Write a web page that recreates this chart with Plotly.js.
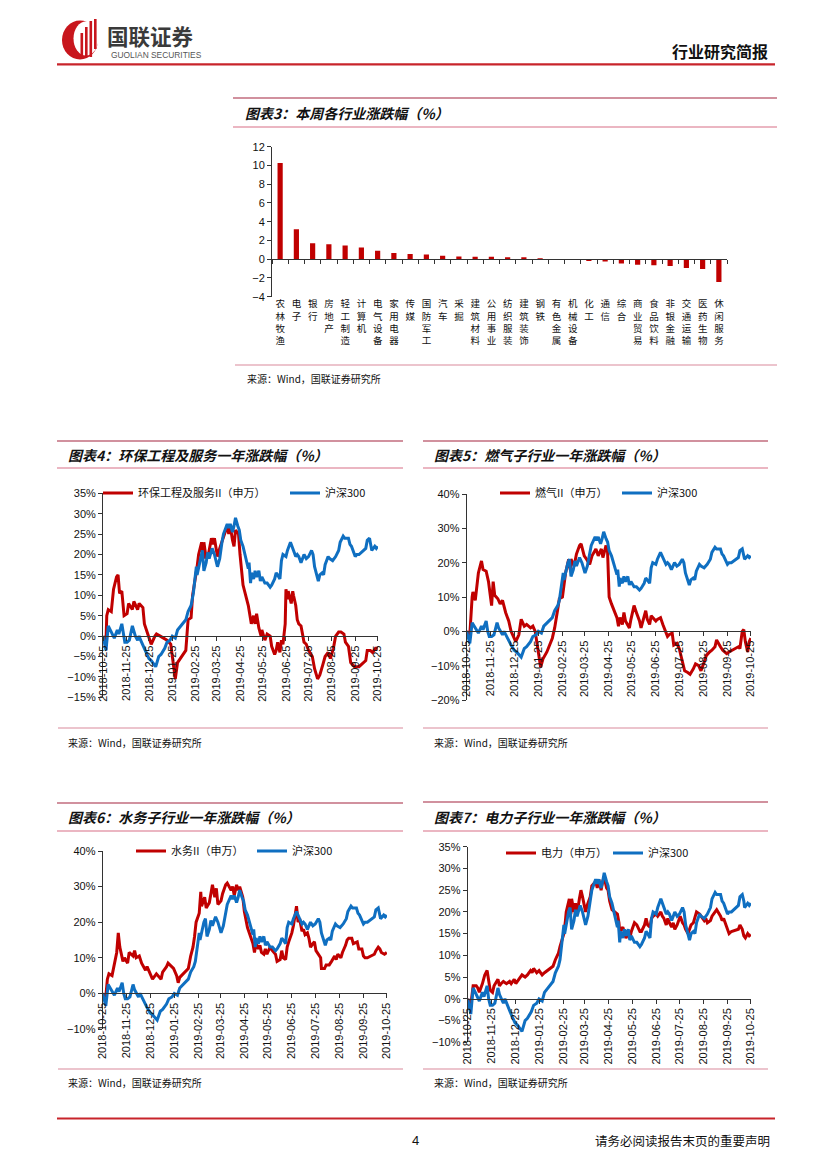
<!DOCTYPE html>
<html><head><meta charset="utf-8">
<script src="https://cdn.plot.ly/plotly-3.0.1.min.js"></script>
<style>
html,body{margin:0;padding:0;background:#fff;}
#page{position:relative;width:827px;height:1169px;overflow:hidden;background:#fff;}
#chart{position:absolute;left:0;top:0;width:827px;height:1169px;}
#logo{position:absolute;left:0;top:0;}
</style></head><body>
<div id="page"><div id="chart"></div>
<svg id="logo" width="120" height="70" viewBox="0 0 120 70">
  <ellipse cx="80" cy="40" rx="18" ry="19.5" fill="#C8161D"/>
  <ellipse cx="86" cy="38.5" rx="12.5" ry="17" fill="#fff"/>
  <rect x="80.5" y="33" width="2.6" height="24" fill="#C8161D"/>
  <rect x="85" y="27" width="2.6" height="30" fill="#C8161D"/>
  <rect x="89.5" y="21" width="2.6" height="36" fill="#C8161D"/>
  <rect x="94" y="19" width="2.6" height="30" fill="#C8161D"/>
</svg>
</div>
<script>
// ---------------- DATA ----------------
const industryNames = ['农林牧渔','电子','银行','房地产','轻工制造','计算机','电气设备','家用电器','传媒','国防军工','汽车','采掘','建筑材料','公用事业','纺织服装','建筑装饰','钢铁','有色金属','机械设备','化工','通信','综合','商业贸易','食品饮料','非银金融','交通运输','医药生物','休闲服务'];
const industryChange = [10.25,3.2,1.7,1.6,1.45,1.25,0.9,0.65,0.55,0.5,0.37,0.28,0.25,0.25,0.22,0.21,0.1,0.02,-0.06,-0.18,-0.25,-0.45,-0.6,-0.64,-0.72,-0.95,-1.05,-2.42];

const monthTicks = ['2018-10-25','2018-11-25','2018-12-25','2019-01-25','2019-02-25','2019-03-25','2019-04-25','2019-05-25','2019-06-25','2019-07-25','2019-08-25','2019-09-25','2019-10-25'];

const hsDates = ['2018-10-25','2018-10-29','2018-11-01','2018-11-05','2018-11-07','2018-11-09','2018-11-13','2018-11-15','2018-11-19','2018-11-21','2018-11-23','2018-11-26','2018-11-29','2018-12-03','2018-12-05','2018-12-07','2018-12-10','2018-12-12','2018-12-14','2018-12-18','2018-12-21','2018-12-25','2018-12-28','2019-01-03','2019-01-07','2019-01-10','2019-01-15','2019-01-18','2019-01-22','2019-01-25','2019-01-29','2019-02-01','2019-02-12','2019-02-15','2019-02-19','2019-02-21','2019-02-22','2019-02-25','2019-02-26','2019-02-27','2019-03-01','2019-03-04','2019-03-06','2019-03-08','2019-03-11','2019-03-13','2019-03-15','2019-03-19','2019-03-22','2019-03-26','2019-03-29','2019-04-01','2019-04-03','2019-04-08','2019-04-10','2019-04-12','2019-04-15','2019-04-17','2019-04-19','2019-04-22','2019-04-24','2019-04-26','2019-04-29','2019-05-06','2019-05-07','2019-05-09','2019-05-10','2019-05-13','2019-05-15','2019-05-17','2019-05-20','2019-05-22','2019-05-24','2019-05-28','2019-05-31','2019-06-04','2019-06-06','2019-06-10','2019-06-12','2019-06-14','2019-06-17','2019-06-19','2019-06-21','2019-06-25','2019-06-27','2019-07-01','2019-07-03','2019-07-05','2019-07-08','2019-07-10','2019-07-12','2019-07-15','2019-07-17','2019-07-19','2019-07-22','2019-07-25','2019-07-29','2019-07-31','2019-08-02','2019-08-05','2019-08-07','2019-08-09','2019-08-12','2019-08-14','2019-08-16','2019-08-20','2019-08-22','2019-08-26','2019-08-28','2019-08-30','2019-09-03','2019-09-05','2019-09-09','2019-09-11','2019-09-16','2019-09-18','2019-09-20','2019-09-23','2019-09-25','2019-09-27','2019-09-30','2019-10-09','2019-10-11','2019-10-14','2019-10-16','2019-10-17','2019-10-21','2019-10-23','2019-10-25'];
const hsValues = [0,-3.5,2.5,1,0,-0.5,1.5,0.5,3,0,-1.5,-1.5,-1,2.5,1,0,-1,0,-1,-2.5,-4,-5.5,-6,-7.5,-5,-4.5,-3,-1.5,-1,0,-0.5,1.5,4,6,7.5,9,10.5,15.5,17,15,17,20,21,16,18,20.5,19,21.5,20,17,19,23,25,27.5,26.5,27.5,25.5,27,29,27,26,23.5,22,16.5,18,13,15.5,14,16,14.5,16,13.5,14.5,13,13,12,12.5,14,15.5,15,14,18.5,20,19.5,21,23,22,20.5,19.5,20,19.5,18,19,20,19,19.5,21,20,17,14.5,13.5,15,15.5,15,17.5,19.5,19,18.5,19,19.5,21,23,24.5,24,24,22.5,22,20.5,19.5,20,20,21.5,23.5,24,22.5,21,22,21.5,22];

const hbDates = ['2018-10-25','2018-10-29','2018-10-30','2018-11-01','2018-11-05','2018-11-08','2018-11-12','2018-11-14','2018-11-16','2018-11-19','2018-11-22','2018-11-26','2018-11-28','2018-12-03','2018-12-05','2018-12-10','2018-12-12','2018-12-17','2018-12-19','2018-12-24','2018-12-28','2019-01-02','2019-01-04','2019-01-09','2019-01-14','2019-01-18','2019-01-23','2019-01-25','2019-01-29','2019-02-01','2019-02-12','2019-02-15','2019-02-19','2019-02-21','2019-02-25','2019-02-27','2019-03-01','2019-03-05','2019-03-07','2019-03-08','2019-03-11','2019-03-14','2019-03-18','2019-03-20','2019-03-22','2019-03-26','2019-03-29','2019-04-03','2019-04-08','2019-04-10','2019-04-12','2019-04-15','2019-04-17','2019-04-19','2019-04-23','2019-04-25','2019-04-29','2019-05-06','2019-05-08','2019-05-10','2019-05-13','2019-05-15','2019-05-17','2019-05-20','2019-05-23','2019-05-24','2019-05-28','2019-05-31','2019-06-04','2019-06-06','2019-06-10','2019-06-12','2019-06-14','2019-06-17','2019-06-19','2019-06-21','2019-06-24','2019-06-25','2019-06-27','2019-06-28','2019-07-02','2019-07-04','2019-07-05','2019-07-08','2019-07-10','2019-07-12','2019-07-15','2019-07-17','2019-07-19','2019-07-22','2019-07-25','2019-07-30','2019-08-02','2019-08-06','2019-08-09','2019-08-13','2019-08-16','2019-08-20','2019-08-23','2019-08-27','2019-08-30','2019-09-03','2019-09-06','2019-09-10','2019-09-12','2019-09-16','2019-09-19','2019-09-24','2019-09-30','2019-10-09','2019-10-11','2019-10-15','2019-10-18','2019-10-22','2019-10-25'];
const hbValues = [0,-1.5,5,6.5,6,11.5,14.5,15,10.5,11,5,5.5,8,6.5,8.5,6.5,8,7,3,0,-2,0,0.5,0,-0.5,-1,-2,-5,-10.5,-6.5,-3.5,4,4.5,10,14,17,20,23,19,23,19,20,24,22.5,24,19.5,21.5,24,27,25,27,23.5,22,26,25,20,12.5,7.5,5,3,5,3,5.5,2,0,1.5,-1,0.5,0,-2.5,-4.5,-3.5,-1.5,-4,-1,-2,3,11.5,9,11,8,11,10,7.5,4,3,2.5,0,-1.5,-2,-3.5,-5,-8,-10.5,-9.5,-7,-5,-4,-5.5,-3,0,1,1,0.5,-1.5,-2.5,-6.5,-7.5,-7.5,-6,-3.5,-3.5,-4,-3,-3];

const rqDates = ['2018-10-25','2018-10-29','2018-11-01','2018-11-02','2018-11-05','2018-11-07','2018-11-09','2018-11-13','2018-11-15','2018-11-19','2018-11-22','2018-11-26','2018-11-28','2018-11-30','2018-12-04','2018-12-07','2018-12-10','2018-12-14','2018-12-18','2018-12-21','2018-12-25','2018-12-27','2018-12-31','2019-01-03','2019-01-07','2019-01-10','2019-01-15','2019-01-18','2019-01-21','2019-01-24','2019-01-28','2019-01-31','2019-02-05','2019-02-12','2019-02-15','2019-02-19','2019-02-21','2019-02-25','2019-02-27','2019-03-01','2019-03-05','2019-03-07','2019-03-08','2019-03-12','2019-03-15','2019-03-19','2019-03-21','2019-03-25','2019-03-28','2019-04-01','2019-04-04','2019-04-09','2019-04-12','2019-04-16','2019-04-18','2019-04-22','2019-04-24','2019-04-26','2019-04-29','2019-05-06','2019-05-08','2019-05-10','2019-05-13','2019-05-15','2019-05-17','2019-05-20','2019-05-22','2019-05-24','2019-05-28','2019-05-31','2019-06-04','2019-06-06','2019-06-10','2019-06-12','2019-06-14','2019-06-17','2019-06-19','2019-06-21','2019-06-25','2019-06-27','2019-07-01','2019-07-04','2019-07-08','2019-07-10','2019-07-12','2019-07-16','2019-07-18','2019-07-22','2019-07-25','2019-07-29','2019-08-01','2019-08-05','2019-08-08','2019-08-12','2019-08-15','2019-08-19','2019-08-22','2019-08-26','2019-08-29','2019-09-02','2019-09-05','2019-09-09','2019-09-11','2019-09-16','2019-09-19','2019-09-24','2019-09-27','2019-10-09','2019-10-11','2019-10-14','2019-10-16','2019-10-18','2019-10-21','2019-10-23','2019-10-25'];
const rqValues = [0,-1,10,11.5,9,13,17,20.5,18,17.5,14.5,7.5,14.5,10.5,9.5,8,9,5.5,3,0,-2,-3,-1,3.5,1.5,2,1,1.5,0,-4,-10.5,-8,-6,-2,1,6.5,9.5,10,13,17,21,18,21,19,22.5,25,25.5,22,21,19.5,22,24,22,24,21.5,25,23,10,8,4,1.5,4,2,5.5,3,1.5,1,3.5,7.5,5.5,3,1,4,6,3.5,2,4.5,4,3,3.5,4,2,0,-1.5,-1,-0.5,-4,-3.5,-5,-9,-11.5,-12,-12.5,-11,-9.5,-10,-11.5,-9,-7,-6,-5.5,-4.5,-2.5,-4.5,-5.5,-6.5,-6,-4.5,-5,0,0.5,-3,-6,-3,-2];

const swDates = ['2018-10-25','2018-10-29','2018-10-31','2018-11-02','2018-11-06','2018-11-08','2018-11-12','2018-11-14','2018-11-16','2018-11-20','2018-11-22','2018-11-26','2018-11-28','2018-12-03','2018-12-05','2018-12-07','2018-12-11','2018-12-14','2018-12-17','2018-12-19','2018-12-21','2018-12-25','2018-12-28','2019-01-02','2019-01-04','2019-01-08','2019-01-10','2019-01-15','2019-01-17','2019-01-21','2019-01-24','2019-01-28','2019-01-30','2019-02-01','2019-02-12','2019-02-15','2019-02-18','2019-02-20','2019-02-22','2019-02-26','2019-02-28','2019-03-01','2019-03-05','2019-03-07','2019-03-11','2019-03-13','2019-03-15','2019-03-18','2019-03-20','2019-03-22','2019-03-26','2019-03-28','2019-04-01','2019-04-03','2019-04-08','2019-04-10','2019-04-12','2019-04-15','2019-04-17','2019-04-19','2019-04-23','2019-04-25','2019-04-29','2019-05-06','2019-05-08','2019-05-10','2019-05-13','2019-05-15','2019-05-17','2019-05-20','2019-05-22','2019-05-24','2019-05-28','2019-05-31','2019-06-04','2019-06-06','2019-06-10','2019-06-12','2019-06-14','2019-06-17','2019-06-19','2019-06-21','2019-06-25','2019-06-27','2019-07-01','2019-07-03','2019-07-05','2019-07-08','2019-07-10','2019-07-12','2019-07-15','2019-07-17','2019-07-19','2019-07-22','2019-07-24','2019-07-26','2019-07-29','2019-08-01','2019-08-02','2019-08-06','2019-08-08','2019-08-12','2019-08-15','2019-08-19','2019-08-21','2019-08-23','2019-08-27','2019-08-29','2019-09-02','2019-09-04','2019-09-06','2019-09-10','2019-09-12','2019-09-17','2019-09-19','2019-09-23','2019-09-25','2019-09-27','2019-09-30','2019-10-09','2019-10-11','2019-10-14','2019-10-16','2019-10-18','2019-10-22','2019-10-25'];
const swValues = [0,-1,4,5.5,5,7.5,11.5,17,13,9,10,8.5,11.5,10.5,12,10,10.5,8.5,7.5,6.5,7.5,5.5,4,5.5,5,4,6,7.5,8.5,7.5,7,5,3,4.5,7,10.5,13,16,20,22.5,28.5,24.5,27,24,25.5,28,30.5,27,29.5,25,26,28,30.5,31,29,30,27.5,30.5,29,30,27,23,18.5,14,11.5,14,12.5,13.5,11.5,11,12.5,11,13,12,11,9,9.5,12,10,9.5,13,14.5,17,19,24.5,20,21,17.5,18,16.5,17,15.5,13,14,14.5,12,11,10,7,7,8,8,9,10.5,9.5,11,10,11.5,13.5,15,15.5,15.5,14,14.5,12.5,12.5,10.5,10,10,11,12,13,12.5,11.5,11,11.5];

const dlDates = ['2018-10-25','2018-10-29','2018-11-01','2018-11-05','2018-11-07','2018-11-09','2018-11-13','2018-11-16','2018-11-19','2018-11-21','2018-11-23','2018-11-26','2018-11-28','2018-12-03','2018-12-05','2018-12-07','2018-12-10','2018-12-14','2018-12-18','2018-12-20','2018-12-24','2018-12-26','2018-12-28','2019-01-03','2019-01-07','2019-01-10','2019-01-14','2019-01-16','2019-01-18','2019-01-22','2019-01-25','2019-01-29','2019-02-01','2019-02-12','2019-02-15','2019-02-19','2019-02-21','2019-02-25','2019-02-26','2019-02-28','2019-03-01','2019-03-05','2019-03-07','2019-03-08','2019-03-11','2019-03-13','2019-03-15','2019-03-18','2019-03-20','2019-03-22','2019-03-26','2019-03-28','2019-04-01','2019-04-03','2019-04-08','2019-04-10','2019-04-12','2019-04-15','2019-04-17','2019-04-19','2019-04-22','2019-04-24','2019-04-26','2019-04-29','2019-05-06','2019-05-08','2019-05-09','2019-05-13','2019-05-15','2019-05-17','2019-05-20','2019-05-22','2019-05-24','2019-05-28','2019-05-31','2019-06-04','2019-06-06','2019-06-10','2019-06-12','2019-06-14','2019-06-17','2019-06-19','2019-06-21','2019-06-25','2019-06-27','2019-07-01','2019-07-03','2019-07-05','2019-07-08','2019-07-10','2019-07-12','2019-07-15','2019-07-17','2019-07-19','2019-07-22','2019-07-24','2019-07-26','2019-07-29','2019-07-31','2019-08-02','2019-08-05','2019-08-07','2019-08-09','2019-08-12','2019-08-14','2019-08-16','2019-08-20','2019-08-22','2019-08-26','2019-08-28','2019-08-30','2019-09-03','2019-09-05','2019-09-09','2019-09-11','2019-09-16','2019-09-18','2019-09-20','2019-09-23','2019-09-25','2019-09-27','2019-09-30','2019-10-09','2019-10-11','2019-10-14','2019-10-16','2019-10-18','2019-10-21','2019-10-23','2019-10-25'];
const dlValues = [0,-1.5,3,3,2.5,1.5,3.5,5.5,6.5,4,2,1.5,3,4.5,3,3.5,4,3.5,4,3.5,4.5,3.5,4,5.5,5,5.5,6.5,6,7,6,6.5,5.5,6,7.5,9,10.5,12,14,15,18,20,23,19.5,23,20,22,19.5,23,25,23.5,20,21.5,23.5,26,27,25.5,27.5,25,27,28,25.5,25,22.5,20.5,19.5,17.5,15.5,16.5,15,14,15,14,15.5,17.5,17,15.5,15.5,17,18.5,17,16.5,18.5,19,19.5,19,20,19,18.5,17,18.5,17.5,16.5,17.5,16,17,18,19,17.5,17,16,15,16,17,17.5,19,20,19.5,19,18,18.5,17.5,18,19,20,20.5,19,18,18.5,17,15.5,15,15.5,16,17,16,14.5,14,15,14.5,14.8];

const hsName = '沪深300';
const chartTitles = ['图表3：本周各行业涨跌幅（%）','图表4：环保工程及服务一年涨跌幅（%）','图表5：燃气子行业一年涨跌幅（%）','图表6：水务子行业一年涨跌幅（%）','图表7：电力子行业一年涨跌幅（%）'];
const seriesNames = ['环保工程及服务II（申万）','燃气II（申万）','水务II（申万）','电力（申万）'];
const sourceText = '来源：Wind，国联证券研究所';

// ---------------- LAYOUT HELPERS ----------------
const W = 827, H = 1169;
const fx = x => x / W;
const fy = y => 1 - y / H;
const RED = '#C00000', BLUE = '#0F6FC1';
const LAT = 'Liberation Sans, Arial, sans-serif';
const CJK = 'Noto Sans CJK SC, sans-serif';

function zeroPos(range, top, bottom) {
  const d0 = fy(bottom), d1 = fy(top);
  return d0 + (0 - range[0]) / (range[1] - range[0]) * (d1 - d0);
}

const traces = [];
const layout = {
  width: W, height: H, margin: {l: 0, r: 0, t: 0, b: 0},
  paper_bgcolor: '#fff', plot_bgcolor: 'rgba(0,0,0,0)',
  showlegend: true, annotations: [], shapes: [],
  font: {family: LAT, color: '#000'}
};

// ---- Chart 3: bars ----
const b = {left: 272, right: 727, top: 146.7, bottom: 296.7, range: [-4, 12]};
const industryIdx = industryNames.map((_, i) => i);
traces.push({type: 'bar', x: industryNames, y: industryChange, marker: {color: RED},
  xaxis: 'x', yaxis: 'y', showlegend: false, width: 0.32});
// invisible carrier so the label axis (x6) is drawn
traces.push({type: 'scatter', mode: 'markers', x: industryIdx, y: industryChange, marker: {opacity: 0, size: 1},
  xaxis: 'x6', yaxis: 'y', showlegend: false, hoverinfo: 'skip'});
layout.xaxis = {domain: [fx(b.left), fx(b.right)], anchor: 'free', position: zeroPos(b.range, b.top, b.bottom),
  type: 'category', categoryorder: 'array', categoryarray: industryNames,
  showline: true, linecolor: '#333', linewidth: 1, ticks: 'outside', ticklen: 4, tickcolor: '#333',
  tickson: 'boundaries', showticklabels: false, showgrid: false, zeroline: false, fixedrange: true};
layout.xaxis6 = {overlaying: 'x', anchor: 'y', side: 'bottom', type: 'linear', range: [-0.5, industryNames.length - 0.5],
  tickmode: 'array', tickvals: industryIdx,
  ticktext: industryNames.map(s => s.split('').join('<br>')),
  showline: false, ticks: '', showgrid: false, zeroline: false,
  tickfont: {family: CJK, size: 9.5, color: '#111'}, tickangle: 0};
layout.yaxis = {domain: [fy(b.bottom), fy(b.top)], range: b.range, dtick: 2, anchor: 'x',
  showline: true, linecolor: '#333', ticks: 'outside', ticklen: 4, tickcolor: '#333',
  showgrid: false, zeroline: false, tickfont: {family: LAT, size: 11, color: '#111'}};

// ---- Line charts ----
const lineCharts = [
  {ax: 2, dates: hbDates, values: hbValues, name: seriesNames[0], left: 103, right: 378, top: 493.3, bottom: 697.3, range: [-15, 35], dtick: 5, legR: 98, legB: 285, legY: 493},
  {ax: 3, dates: rqDates, values: rqValues, name: seriesNames[1], left: 466.7, right: 751, top: 494, bottom: 700, range: [-20, 40], dtick: 10, legR: 495, legB: 617, legY: 493},
  {ax: 4, dates: swDates, values: swValues, name: seriesNames[2], left: 102.7, right: 387, top: 851, bottom: 1029, range: [-10, 40], dtick: 10, legR: 131, legB: 252, legY: 851},
  {ax: 5, dates: dlDates, values: dlValues, name: seriesNames[3], left: 467.7, right: 751, top: 846.7, bottom: 1042.3, range: [-10, 35], dtick: 5, legR: 501, legB: 608, legY: 853}
];
let legIdx = 1;
lineCharts.forEach(c => {
  const xa = 'x' + c.ax, ya = 'y' + c.ax;
  const lr = legIdx === 1 ? 'legend' : 'legend' + legIdx; legIdx++;
  const lb = 'legend' + legIdx; legIdx++;
  traces.push({type: 'scatter', mode: 'lines', x: c.dates, y: c.values, name: c.name,
    line: {color: RED, width: 3}, xaxis: xa, yaxis: ya, legend: lr});
  traces.push({type: 'scatter', mode: 'lines', x: hsDates, y: hsValues, name: hsName,
    line: {color: BLUE, width: 3}, xaxis: xa, yaxis: ya, legend: lb});
  layout['xaxis' + c.ax] = {domain: [fx(c.left), fx(c.right)], anchor: 'free', position: zeroPos(c.range, c.top, c.bottom),
    type: 'date', range: ['2018-10-25', '2019-10-25 06:00'], tickmode: 'array', tickvals: monthTicks,
    tickformat: '%Y-%m-%d', tickangle: -90, showline: true, linecolor: '#333', linewidth: 1,
    ticks: 'outside', ticklen: 4, tickcolor: '#333', showgrid: false, zeroline: false,
    tickfont: {family: LAT, size: 11, color: '#111'}};
  layout['yaxis' + c.ax] = {domain: [fy(c.bottom), fy(c.top)], range: c.range, dtick: c.dtick, anchor: xa,
    ticksuffix: '%', showline: true, linecolor: '#333', ticks: 'outside', ticklen: 4, tickcolor: '#333',
    showgrid: false, zeroline: false, tickfont: {family: LAT, size: 11, color: '#111'}};
  const legCommon = {orientation: 'h', xanchor: 'left', yanchor: 'middle', bgcolor: 'rgba(0,0,0,0)',
    borderwidth: 0, font: {family: CJK, size: 11, color: '#111'}, itemwidth: 30};
  layout[lr] = Object.assign({x: fx(c.legR), y: fy(c.legY)}, legCommon);
  layout[lb] = Object.assign({x: fx(c.legB), y: fy(c.legY)}, legCommon);
});

// ---- Decorations: lines & text ----
function hline(x0, x1, y, color, w) {
  layout.shapes.push({type: 'line', xref: 'paper', yref: 'paper', x0: fx(x0), x1: fx(x1), y0: fy(y), y1: fy(y), line: {color: color, width: w}});
}
function text(t, x, y, size, opts) {
  layout.annotations.push(Object.assign({text: t, xref: 'paper', yref: 'paper', x: fx(x), y: fy(y),
    xanchor: 'left', yanchor: 'middle', showarrow: false, font: {family: CJK, size: size, color: '#111'}}, opts || {}));
}
const TOP = '#A3243F', BOT = '#D86F86', SRC = '#D98A9B';
// header
hline(57, 775, 64.3, '#C8242B', 2.2);
text('<b>国联证券</b>', 105, 35, 21.5, {font: {family: CJK, size: 21.5, color: '#3a3a3a'}});
text('GUOLIAN SECURITIES', 108.5, 55, 8.4, {font: {family: LAT, size: 8.4, color: '#555'}});
text('<b>行业研究简报</b>', 770, 51, 16, {xanchor: 'right', font: {family: CJK, size: 16, color: '#111'}});
// footer
hline(57, 775, 1118.5, '#C8242B', 2.2);
text('4', 415, 1140, 13, {xanchor: 'center', font: {family: LAT, size: 13, color: '#111'}});
text('请务必阅读报告末页的重要声明', 772, 1140, 12.5, {xanchor: 'right'});
// chart 3
hline(233, 777, 98, TOP, 1.2); hline(233, 777, 127, BOT, 1.2); hline(235, 777, 365, SRC, 1.2);
text('<b><i>' + chartTitles[0] + '</i></b>', 243, 113, 14);
text(sourceText, 245, 379, 10);
// chart 4 & 5
hline(57, 403, 441, TOP, 1.2); hline(57, 403, 468, BOT, 1.2); hline(58, 403, 728, SRC, 1.2);
text('<b><i>' + chartTitles[1] + '</i></b>', 66, 455, 14);
text(sourceText, 66, 742, 10);
hline(423, 768, 441, TOP, 1.2); hline(423, 768, 468, BOT, 1.2); hline(423, 768, 728, SRC, 1.2);
text('<b><i>' + chartTitles[2] + '</i></b>', 432, 455, 14);
text(sourceText, 432, 742, 10);
// chart 6 & 7
hline(57, 403, 803, TOP, 1.2); hline(57, 403, 831, BOT, 1.2); hline(58, 403, 1069, SRC, 1.2);
text('<b><i>' + chartTitles[3] + '</i></b>', 66, 817, 14);
text(sourceText, 66, 1082, 10);
hline(423, 768, 802, TOP, 1.2); hline(423, 768, 831, BOT, 1.2); hline(423, 768, 1069, SRC, 1.2);
text('<b><i>' + chartTitles[4] + '</i></b>', 432, 817, 14);
text(sourceText, 432, 1082, 10);

Plotly.newPlot('chart', traces, layout, {staticPlot: true, displayModeBar: false});
</script>
</body></html>
